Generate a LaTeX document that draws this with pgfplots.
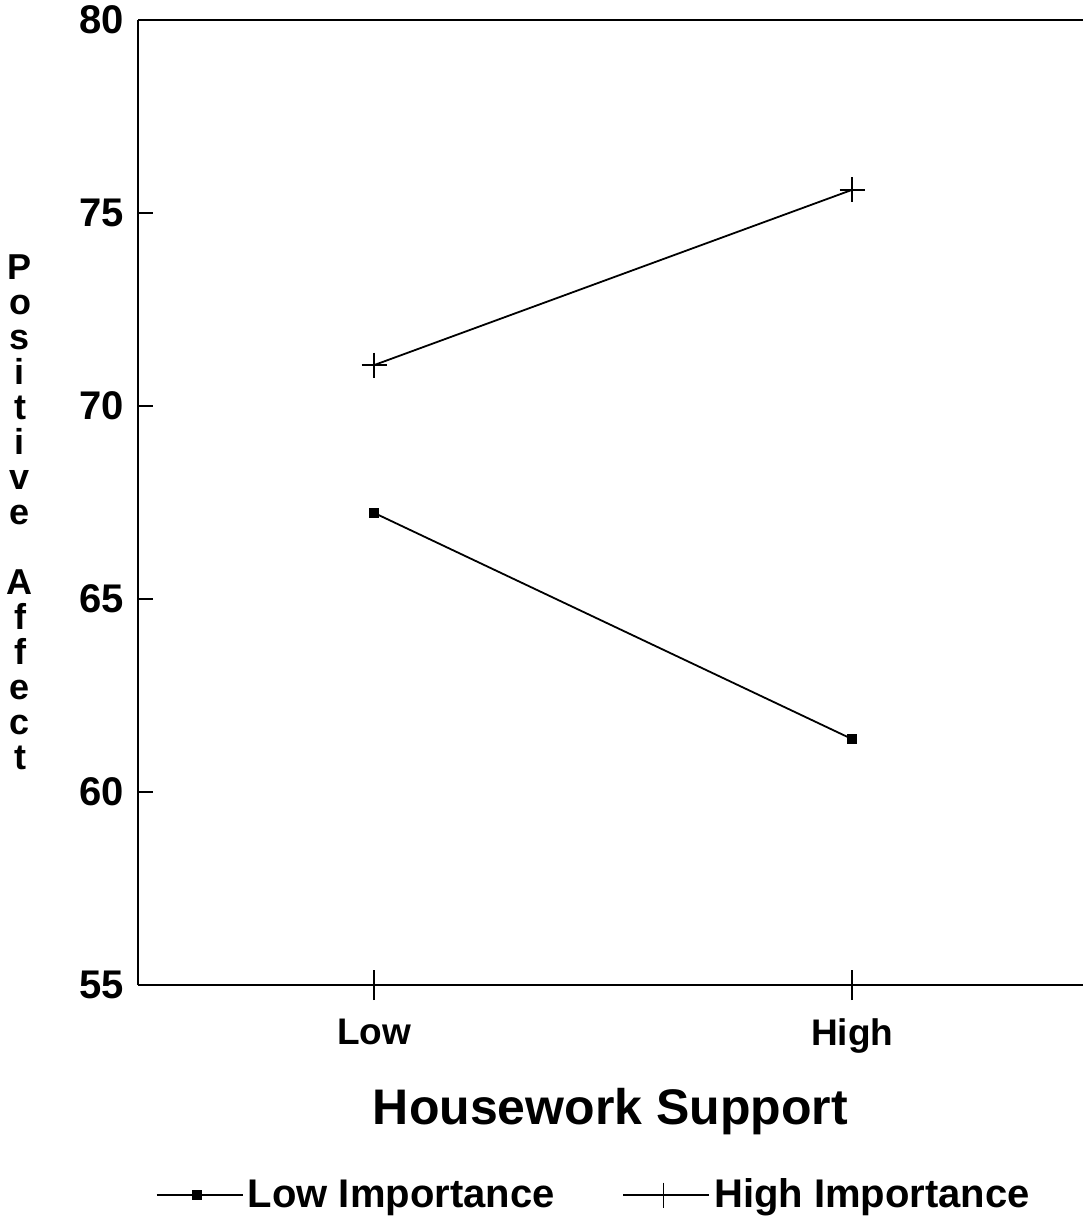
\documentclass[border=0pt]{standalone}
\usepackage{pgfplots}
\pgfplotsset{compat=1.18}
\usepackage{fontspec}
\setmainfont{Liberation Sans}
\begin{document}
\begin{tikzpicture}
\begin{axis}[name=ax, scale only axis, width=472.5pt, height=482.5pt,
  xmin=-0.494, xmax=1.483, ymin=55, ymax=80,
  axis x line=bottom, axis y line=left,
  axis line style={-, line width=0.9pt},
  xtick={0,1}, xticklabels={Low,High},
  ytick={55,60,...,80},
  tick align=center, major tick length=15pt,
  ytick style={draw=none},
  xtick style={line width=0.9pt, black},
  xticklabel style={font=\fontsize{18.5}{20}\selectfont\bfseries, yshift=-6pt},
  yticklabel style={font=\fontsize{20}{22}\selectfont\bfseries, xshift=4pt},
  /pgf/number format/assume math mode=true,
  xlabel={Housework Support},
  xlabel style={font=\fontsize{25}{28}\selectfont\bfseries, yshift=-10.5pt},
  legend columns=2,
  legend style={draw=none, at={(rel axis cs:0.4836,0)}, anchor=center, yshift=-105pt,
    font=\fontsize{20}{22}\selectfont\bfseries, /tikz/every even column/.append style={column sep=32pt}},
  legend image code/.code={\draw[#1,mark repeat=2,mark phase=2] plot coordinates {(0pt,0pt) (20pt,0pt) (36pt,0pt)};
    \path (0pt,0pt) -- (43pt,0pt);},
]
\addplot[black, line width=0.9pt, mark=square*, mark size=2pt] coordinates {(0,67.23) (1,61.37)};
\addlegendentry{Low Importance}
\addplot[black, line width=0.9pt, mark=+, mark size=6.25pt] coordinates {(0,71.06) (1,75.6)};
\addlegendentry{High Importance}
\draw[line width=0.9pt] (rel axis cs:0,1) -- (rel axis cs:1,1);
\coordinate (ml) at (rel axis cs:0,0.5);
\coordinate (bl) at (rel axis cs:0,0);
\coordinate (tr) at (rel axis cs:1,1);
\end{axis}
\begin{axis}[at={(bl)}, anchor=south west, scale only axis, width=472.5pt, height=482.5pt,
  xmin=-0.494, xmax=1.483, ymin=55, ymax=80,
  axis line style={draw=none}, xtick=\empty, ytick={60,65,70,75}, yticklabels={},
  ytick pos=left, tick align=inside, major tick length=7.5pt,
  ytick style={line width=0.9pt, black}]
\end{axis}
\node[font=\fontsize{18}{17.5}\selectfont\bfseries, align=center, inner sep=0pt] at ([xshift=-59pt, yshift=-5pt]ml)
  {P\\o\\s\\i\\t\\i\\v\\e\\[17.5pt]A\\f\\f\\e\\c\\t};
\pgfresetboundingbox
\path[use as bounding box] ([xshift=-69pt,yshift=-117pt]bl) rectangle ([yshift=10pt]tr);
\end{tikzpicture}
\end{document}
